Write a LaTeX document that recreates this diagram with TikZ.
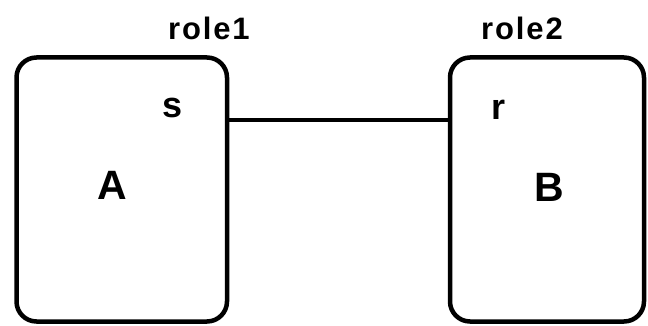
\documentclass[tikz,border=0pt]{standalone}
\usepackage{fontspec}
\setmainfont{Liberation Sans}
\begin{document}
\begin{tikzpicture}[x=1pt,y=-1pt,
  rolebox/.style={draw,line width=4.5pt,rounded corners=20pt},
  wire/.style={line width=4pt},
  lbl/.style={font=\bfseries\fontsize{31}{31}\selectfont\addfontfeatures{LetterSpace=6},inner sep=0pt},
  port/.style={font=\bfseries\fontsize{36}{36}\selectfont,inner sep=0pt},
  big/.style={font=\bfseries\fontsize{41}{41}\selectfont,inner sep=0pt}]
\useasboundingbox (0,0) rectangle (648,326);
% the two components
\draw[rolebox] (16.5,57.5) rectangle (227,321.5);
\draw[rolebox] (450,57.5) rectangle (644,321.5);
\coordinate (Aport) at (227,120);
\coordinate (Bport) at (450,120);
% connector between the ports
\draw[wire] (Aport) -- (Bport);
% labels
\node[lbl] (role1) at (209,28) {role1};
\node[lbl] (role2) at (522,28) {role2};
\node[port] (s) at (173,107.5) {s};
\node[port] (r) at (498,110) {r};
\node[big] (A) at (112,185) {A};
\node[big] (B) at (549,187.5) {B};
\end{tikzpicture}
\end{document}
